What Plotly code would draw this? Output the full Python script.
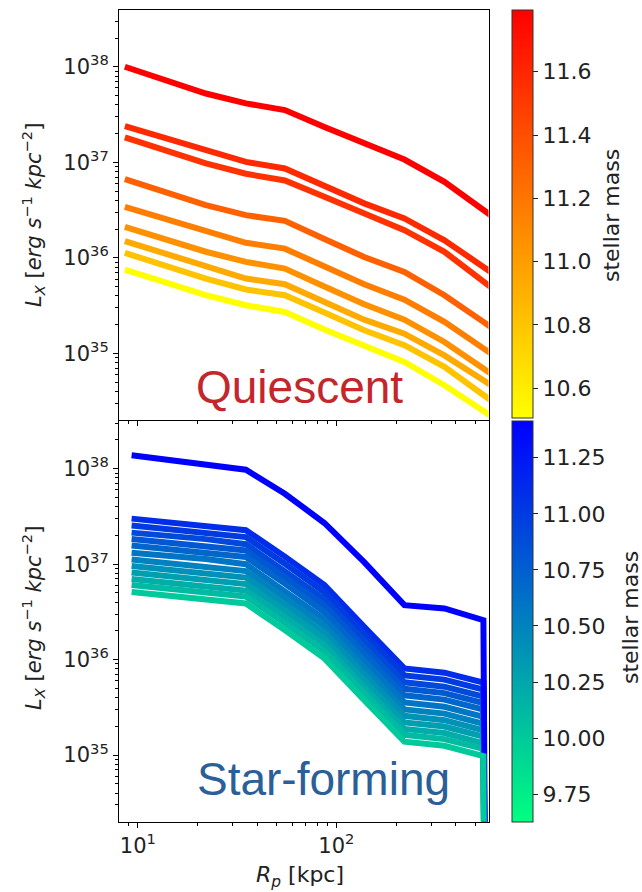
import plotly.graph_objects as go
from plotly.colors import sample_colorscale

# ---------------- data ----------------
# projected radius bins [kpc]
q_radius = [8.6, 22, 35, 55, 87, 138, 220, 350, 550, 870]
sf_radius = [9.3, 22, 35, 55, 87, 138, 220, 350, 550, 870]

# Quiescent: stellar mass of each profile and L_X surface brightness [erg/s/kpc^2]
q_mass = [11.795, 11.59, 11.54, 11.31, 11.16, 11.06, 10.935, 10.81, 10.506]
q_lx = [
    [1.0e38, 5.25e37, 4.14e37, 3.52e37, 2.34e37, 1.58e37, 1.07e37, 6.25e36, 3.18e36, 1.60e36],
    [2.39e37, 1.34e37, 1.01e37, 8.63e36, 5.62e36, 3.72e36, 2.59e36, 1.53e36, 8.05e35, 4.18e35],
    [1.82e37, 9.73e36, 7.59e36, 6.46e36, 4.37e36, 2.92e36, 1.95e36, 1.16e36, 5.69e35, 2.75e35],
    [6.67e36, 3.56e36, 2.80e36, 2.44e36, 1.58e36, 1.02e36, 7.13e35, 4.07e35, 2.14e35, 1.11e35],
    [3.42e36, 1.87e36, 1.44e36, 1.25e36, 8.13e35, 5.30e35, 3.66e35, 2.14e35, 1.13e35, 5.87e34],
    [2.11e36, 1.16e36, 9.08e35, 7.74e35, 5.01e35, 3.27e35, 2.26e35, 1.32e35, 6.97e34, 3.62e34],
    [1.50e36, 8.05e35, 6.08e35, 5.30e35, 3.47e35, 2.26e35, 1.61e35, 9.55e34, 5.25e34, 2.84e34],
    [1.13e36, 6.08e35, 4.67e35, 4.07e35, 2.69e35, 1.75e35, 1.22e35, 7.24e34, 3.68e34, 1.84e34],
    [7.55e35, 4.07e35, 3.20e35, 2.72e35, 1.78e35, 1.19e35, 8.15e34, 4.65e34, 2.52e34, 1.34e34],
]

# Star-forming: (last bin is empty -> tiny value, drawn as a drop)
sf_mass = [11.1, 11.0, 10.9, 10.8, 10.7, 10.6, 10.5, 10.4, 10.3, 10.2, 10.1, 11.414, 10.0]
sf_lx = [
    [3.00e37, 2.56e37, 2.27e37, 1.20e37, 6.04e36, 2.21e36, 8.09e35, 7.30e35, 5.73e35, 1e-30],
    [2.54e37, 2.16e37, 1.92e37, 1.01e37, 5.10e36, 1.87e36, 6.84e35, 6.17e35, 4.84e35, 1e-30],
    [2.14e37, 1.83e37, 1.62e37, 8.55e36, 4.31e36, 1.58e36, 5.78e35, 5.21e35, 4.09e35, 1e-30],
    [1.83e37, 1.56e37, 1.39e37, 7.31e36, 3.69e36, 1.35e36, 4.94e35, 4.46e35, 3.50e35, 1e-30],
    [1.57e37, 1.34e37, 1.19e37, 6.25e36, 3.15e36, 1.15e36, 4.23e35, 3.81e35, 2.99e35, 1e-30],
    [1.32e37, 1.13e37, 1.00e37, 5.27e36, 2.66e36, 9.73e35, 3.56e35, 3.21e35, 2.52e35, 1e-30],
    [1.12e37, 9.53e36, 8.45e36, 4.46e36, 2.25e36, 8.22e35, 3.01e35, 2.72e35, 2.13e35, 1e-30],
    [9.55e36, 8.15e36, 7.23e36, 3.81e36, 1.92e36, 7.03e35, 2.58e35, 2.32e35, 1.82e35, 1e-30],
    [8.17e36, 6.97e36, 6.18e36, 3.26e36, 1.64e36, 6.01e35, 2.20e35, 1.99e35, 1.56e35, 1e-30],
    [6.98e36, 5.96e36, 5.29e36, 2.79e36, 1.41e36, 5.14e35, 1.88e35, 1.70e35, 1.33e35, 1e-30],
    [6.05e36, 5.16e36, 4.58e36, 2.42e36, 1.22e36, 4.46e35, 1.63e35, 1.47e35, 1.16e35, 1e-30],
    [1.38e38, 1.08e38, 9.77e37, 5.47e37, 2.70e37, 1.05e37, 3.72e36, 3.44e36, 2.59e36, 1e-30],
    [5.12e36, 4.37e36, 3.87e36, 2.04e36, 1.03e36, 3.77e35, 1.38e35, 1.25e35, 9.77e34, 1e-30],
]

q_cbar_range = [10.506, 11.795]
sf_cbar_range = [9.626, 11.414]
q_cbar_ticks = [10.6, 10.8, 11.0, 11.2, 11.4, 11.6]
sf_cbar_ticks = [9.75, 10.0, 10.25, 10.5, 10.75, 11.0, 11.25]
y_major = [1e35, 1e36, 1e37, 1e38]
x_major = [10, 100]

# ---------------- styling ----------------
W, H = 642, 892
FONT = "DejaVu Sans"
autumn_r = [[0.0, "rgb(255,255,0)"], [1.0, "rgb(255,0,0)"]]
winter_r = [[0.0, "rgb(0,255,128)"], [1.0, "rgb(0,0,255)"]]


def color_for(m, rng, cs):
    s = (m - rng[0]) / (rng[1] - rng[0])
    s = min(max(s, 0.0), 1.0)
    return sample_colorscale(cs, [s])[0]


def px(xp, yp):
    return xp / W, 1 - yp / H


fig = go.Figure()

for m, lx in zip(q_mass, q_lx):
    fig.add_trace(go.Scatter(x=q_radius, y=lx, mode="lines", xaxis="x", yaxis="y",
                             line=dict(color=color_for(m, q_cbar_range, autumn_r), width=6),
                             hoverinfo="skip", showlegend=False))

for m, lx in zip(sf_mass, sf_lx):
    fig.add_trace(go.Scatter(x=sf_radius, y=lx, mode="lines", xaxis="x2", yaxis="y2",
                             line=dict(color=color_for(m, sf_cbar_range, winter_r), width=6),
                             hoverinfo="skip", showlegend=False))

# colorbars
def cbar_trace(rng, cs, ticks, ticktext, top_px, len_px, xa, ya):
    return go.Scatter(
        x=[None], y=[None], mode="markers", xaxis=xa, yaxis=ya,
        marker=dict(color=[rng[0]], cmin=rng[0], cmax=rng[1], colorscale=cs, showscale=True,
                    colorbar=dict(x=512 / W, xanchor="left", xpad=0, ypad=0,
                                  y=1 - top_px / H, yanchor="top",
                                  lenmode="pixels", len=len_px, thickness=21,
                                  outlinewidth=1, outlinecolor="#333",
                                  tickvals=ticks, ticktext=ticktext,
                                  ticks="outside", ticklen=5, tickcolor="#222",
                                  tickfont=dict(family=FONT, size=22, color="#222"))),
        hoverinfo="skip", showlegend=False)

fig.add_trace(cbar_trace(q_cbar_range, autumn_r, q_cbar_ticks,
                         [f"{t:.1f}" for t in q_cbar_ticks], 10, 408, "x", "y"))
fig.add_trace(cbar_trace(sf_cbar_range, winter_r, sf_cbar_ticks,
                         [f"{t:.2f}" for t in sf_cbar_ticks], 421, 401, "x2", "y2"))

x_dom = [119 / W, 488.5 / W]
minor_x = [8.0, 9.0, 20.0, 30.0, 40.0, 50.0, 60.0, 70.0, 80.0, 90.0, 200.0, 300.0, 400.0, 500.0]
minor_y = [float(k) * 10.0 ** e for e in range(34, 39) for k in range(2, 10)]
sup = lambda e: f"10<sup>{e}</sup>"

common_x = dict(type="log", range=[0.905, 2.766], domain=x_dom, showgrid=False, zeroline=False,
                showline=True, linecolor="black", linewidth=1, mirror=True,
                ticks="outside", ticklen=5, tickcolor="black", tickvals=x_major,
                ticktext=[sup(1), sup(2)], tickfont=dict(family=FONT, size=21, color="#222"),
                minor=dict(tickvals=minor_x, ticks="outside", ticklen=3, tickcolor="black"))
common_y = dict(type="log", showgrid=False, zeroline=False,
                showline=True, linecolor="black", linewidth=1, mirror=True,
                ticks="outside", ticklen=5, tickcolor="black", tickvals=y_major,
                ticktext=[sup(35), sup(36), sup(37), sup(38)],
                tickfont=dict(family=FONT, size=21, color="#222"),
                minor=dict(tickvals=minor_y, ticks="outside", ticklen=3, tickcolor="black"))

fig.update_layout(
    width=W, height=H, margin=dict(l=0, r=0, t=0, b=0),
    paper_bgcolor="white", plot_bgcolor="white",
    xaxis=dict(common_x, anchor="y", showticklabels=False),
    yaxis=dict(common_y, anchor="x", range=[34.309, 38.594], domain=[1 - 419.5 / H, 1 - 10 / H]),
    xaxis2=dict(common_x, anchor="y2"),
    yaxis2=dict(common_y, anchor="x2", range=[34.302, 38.505], domain=[1 - 821.7 / H, 1 - 420.5 / H]),
)

ylabel = "<i>L<sub>X</sub></i> [<i>erg</i> <i>s</i><sup>−1</sup> <i>kpc</i><sup>−2</sup>]"
annos = [
    (33, 215, ylabel, -90, 21, "#222", FONT),
    (33, 618, ylabel, -90, 21, "#222", FONT),
    (300, 876, "<i>R<sub>p</sub></i> [kpc]", 0, 22, "#222", FONT),
    (611, 216, "stellar mass", -90, 22, "#222", FONT),
    (630, 618, "stellar mass", -90, 22, "#222", FONT),
    (299, 387, "Quiescent", 0, 46, "#C3262B", "Liberation Sans"),
    (323, 779, "Star-forming", 0, 46, "#2A5F98", "Liberation Sans"),
]
for xp, yp, txt, ang, size, col, fam in annos:
    ax, ay = px(xp, yp)
    fig.add_annotation(x=ax, y=ay, xref="paper", yref="paper", text=txt, showarrow=False,
                       textangle=ang, xanchor="center", yanchor="middle",
                       font=dict(family=fam, size=size, color=col))

fig.write_html("out.html")
